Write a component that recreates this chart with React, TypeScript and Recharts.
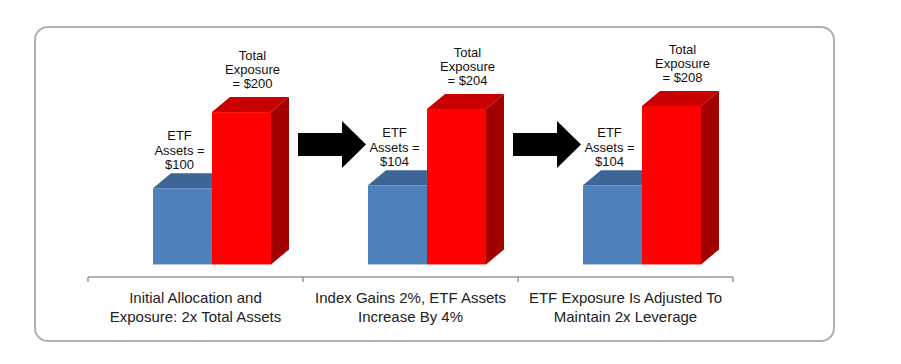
import React from 'react';
import { BarChart, Bar, XAxis, YAxis, LabelList } from 'recharts';

const categories = [
  'Initial Allocation and\nExposure: 2x Total Assets',
  'Index Gains 2%, ETF Assets\nIncrease By 4%',
  'ETF Exposure Is Adjusted To\nMaintain 2x Leverage',
];
const etfAssets = [100, 104, 104];
const totalExposure = [200, 204, 208];

const data = categories.map((name, i) => ({ name, etf: etfAssets[i], total: totalExposure[i] }));

const FONT = '"Liberation Sans", Arial, Helvetica, sans-serif';
const SHIFT = 16; // groups sit a bit right of the band centre
const DX = 18;
const DY = 15;

function Box3D(props: any) {
  const { x, y, width, height, index, front, top, side, arrow } = props;
  const x0 = x + SHIFT;
  const x1 = x0 + width;
  const yb = y + height;
  let arrowEl = null;
  if (arrow && index < data.length - 1) {
    const sx = x1 + 27;
    const cy = yb - 120;
    const pts = [
      [sx, cy - 11.5], [sx + 44, cy - 11.5], [sx + 44, cy - 23.5], [sx + 68, cy],
      [sx + 44, cy + 23.5], [sx + 44, cy + 11.5], [sx, cy + 11.5],
    ].map((p) => p.join(',')).join(' ');
    arrowEl = <polygon points={pts} fill="#000" />;
  }
  return (
    <g>
      <polygon points={`${x1},${y} ${x1 + DX},${y - DY} ${x1 + DX},${yb - DY} ${x1},${yb}`} fill={side} />
      <polygon points={`${x0},${y} ${x0 + DX},${y - DY} ${x1 + DX},${y - DY} ${x1},${y}`} fill={top} />
      <rect x={x0} y={y} width={width} height={height} fill={front} />
      {arrowEl}
    </g>
  );
}

function makeLabel(lines: (v: number) => string[], dx: number, firstDy: number, step: number) {
  return (p: any) => {
    const vb = p.viewBox || {};
    const bx = p.x ?? vb.x;
    const by = p.y ?? vb.y;
    const bw = p.width ?? vb.width;
    const cx = bx + SHIFT + bw / 2 + dx;
    return (
      <text x={cx} y={by} textAnchor="middle" fontFamily={FONT} fontSize={13} fill="#111">
        {lines(p.value).map((l, i) => (
          <tspan key={i} x={cx} dy={i === 0 ? firstDy : step}>{l}</tspan>
        ))}
      </text>
    );
  };
}

const etfLabel = makeLabel((v) => ['ETF', 'Assets =', `$${v}`], -3, -48, 14.5);
const totalLabel = makeLabel((v) => ['Total', 'Exposure', `= $${v}`], 11, -52, 14);

function CategoryTick(props: any) {
  const { x, y, payload } = props;
  const half = payload.offset || (props.width ? props.width / categories.length / 2 : 107.5);
  const lines = String(payload.value).split('\n');
  return (
    <g>
      <line x1={x - half} y1={y} x2={x - half} y2={y + 5} stroke="#999" strokeWidth={1.5} />
      {payload.index === categories.length - 1 && (
        <line x1={x + half} y1={y} x2={x + half} y2={y + 5} stroke="#999" strokeWidth={1.5} />
      )}
      <text x={x} y={y} textAnchor="middle" fontFamily={FONT} fontSize={15} fill="#222">
        {lines.map((l, i) => (
          <tspan key={i} x={x} dy={i === 0 ? 26 : 19}>{l}</tspan>
        ))}
      </text>
    </g>
  );
}

export default function App() {
  return (
    <div style={{ position: 'absolute', left: 0, top: 0, width: 901, height: 364, background: '#fff' }}>
      <div
        style={{
          position: 'absolute', left: 34, top: 26, width: 801, height: 316, boxSizing: 'border-box',
          border: '2px solid #b0b0b0', borderRadius: 14,
        }}
      />
      <div style={{ position: 'absolute', left: 0, top: 0 }}>
        <BarChart width={901} height={364} data={data} barSize={59} barGap={0}
          margin={{ top: 74, right: 168, bottom: 27, left: 88 }}>
          <XAxis dataKey="name" height={60} interval={0} tickLine={false} tickSize={0} tickMargin={0}
            axisLine={{ stroke: '#999', strokeWidth: 1.5 }} tick={<CategoryTick />} />
          <YAxis hide domain={[-16.5, 250]} allowDataOverflow />
          <Bar dataKey="etf" isAnimationActive={false}
            shape={(p: any) => <Box3D {...p} front="#4f81bd" top="#3d6596" side="#3a5f8c" />}>
            <LabelList dataKey="etf" content={etfLabel} />
          </Bar>
          <Bar dataKey="total" isAnimationActive={false}
            shape={(p: any) => <Box3D {...p} front="#ff0000" top="#c80000" side="#a30000" arrow />}>
            <LabelList dataKey="total" content={totalLabel} />
          </Bar>
        </BarChart>
      </div>
    </div>
  );
}
